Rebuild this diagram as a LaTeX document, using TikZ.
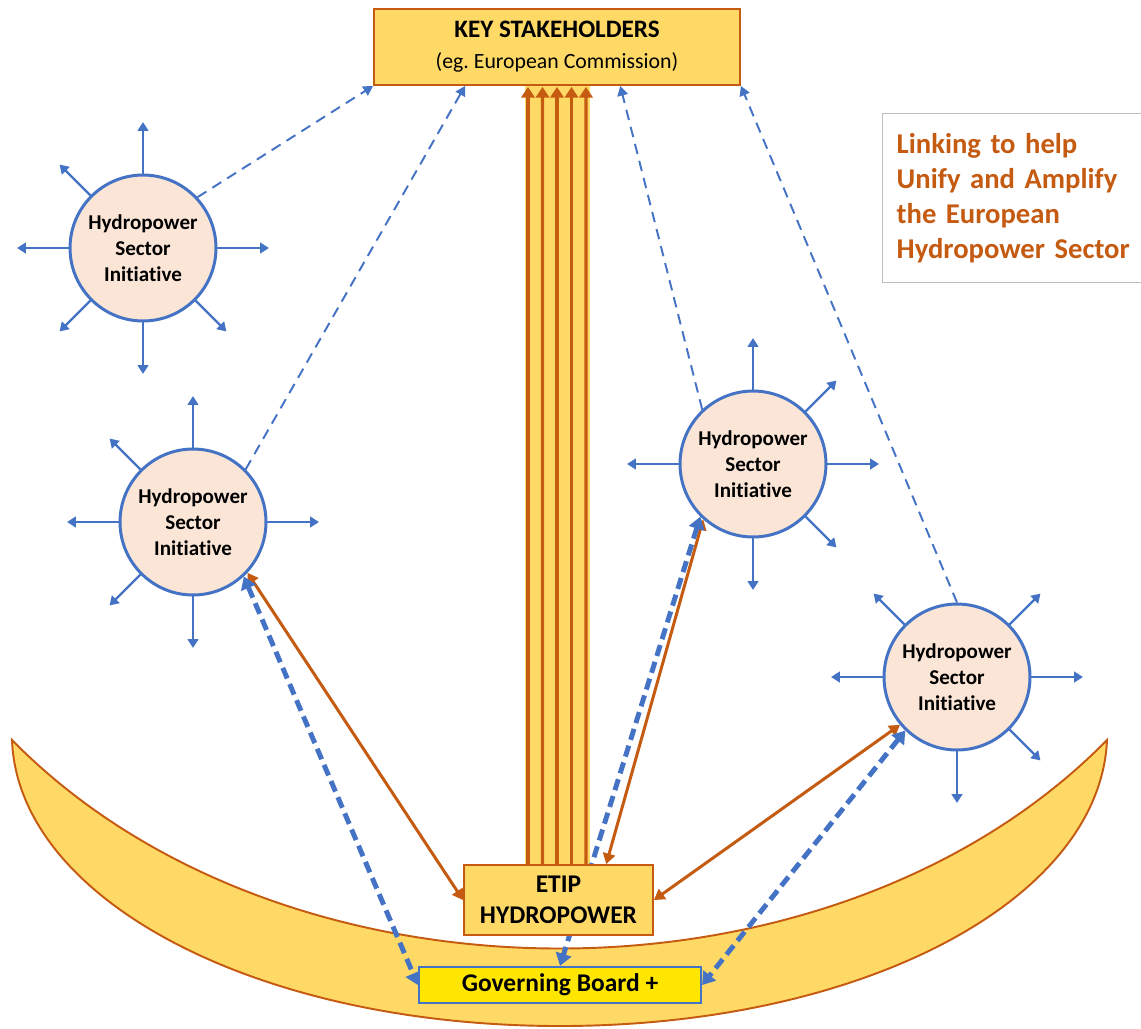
\documentclass[tikz,border=0pt]{standalone}
\usepackage{fontspec}
\setmainfont{Carlito}[Ligatures=NoCommon]
\frenchspacing
\usetikzlibrary{arrows.meta,calc}
\definecolor{gold}{HTML}{FFD966}
\definecolor{rust}{HTML}{C55A11}
\definecolor{iblue}{HTML}{4472C4}
\definecolor{peach}{HTML}{FBE5D6}
\definecolor{gbyellow}{HTML}{FFE600}
\definecolor{boxgray}{HTML}{BFBFBF}
\pgfdeclarelayer{bg}
\pgfdeclarelayer{mid}
\pgfsetlayers{bg,mid,main}
\begin{document}
\begin{tikzpicture}[x=0.02cm,y=-0.02cm,
  init/.style={circle, draw=iblue, line width=1.7pt, fill=peach, minimum size=2.92cm, inner sep=0pt, align=center, font=\fontsize{12}{14.7}\selectfont\bfseries},
  ray/.style={draw=iblue, line width=1.3pt, -{Triangle[width=6pt,length=5pt]}},
  goldbox/.style={draw=rust, line width=1.1pt, fill=gold, align=center, inner sep=0pt},
  thindash/.style={draw=iblue, line width=1.1pt, dash pattern=on 6pt off 4pt, -{Triangle[width=6pt,length=5.5pt]}},
  thickdash/.style={draw=iblue, line width=2.8pt, dash pattern=on 6.5pt off 3.5pt, {Triangle[width=9pt,length=7pt]}-{Triangle[width=9pt,length=7pt]}},
  rustarrow/.style={draw=rust, line width=1.7pt, {Triangle[width=7pt,length=6pt]}-{Triangle[width=7pt,length=6pt]}},
  upflow/.style={draw=rust, line width=1.8pt, -{Triangle[width=7.5pt,length=6pt]}}
]
\clip (0,0) rectangle (1141,1028);

% nodes
\node[goldbox, minimum width=7.32cm, minimum height=1.52cm, font=\fontsize{14.3}{17.6}\selectfont] (key) at (557,47)
  {\textbf{KEY STAKEHOLDERS}\\{\fontsize{12.4}{17.6}\selectfont (eg. European Commission)}};
\node[goldbox, minimum width=3.78cm, minimum height=1.4cm, font=\fontsize{14.5}{17.6}\selectfont\bfseries] (etip) at (558.5,900) {ETIP\\HYDROPOWER};
\node[draw=iblue, line width=1.3pt, fill=gbyellow, inner sep=0pt, minimum width=5.64cm, minimum height=0.72cm, font=\fontsize{14.5}{17}\selectfont\bfseries] (gb) at (560,985) {Governing Board +};
\node[draw=boxgray, line width=0.8pt, fill=white, anchor=north west, minimum height=3.38cm, text width=5cm, inner xsep=0.28cm, align=left, text=rust, font=\fontsize{16.3}{19.9}\selectfont\bfseries] (tagline) at (882,113)
  {Linking to help\\Unify and Amplify\\the European\\Hydropower Sector};

\node[init] (c1) at (143,248) {Hydropower\\Sector\\Initiative};
\node[init] (c2) at (193,522) {Hydropower\\Sector\\Initiative};
\node[init] (c3) at (753,464) {Hydropower\\Sector\\Initiative};
\node[init] (c4) at (957,677) {Hydropower\\Sector\\Initiative};

% background and crescent
\begin{pgfonlayer}{bg}
\fill[white] (0,0) rectangle (1141,1028);
\draw[rust, line width=1.1pt, fill=gold] (12,740) .. controls (285,1018) and (834,1018) .. (1107,740)
  .. controls (1100,900) and (863,1026) .. (560,1026)
  .. controls (257,1026) and (18,900) .. cycle;
\end{pgfonlayer}

\begin{pgfonlayer}{mid}
% upward flow band
\fill[gold] ($(key.south)+(-32,0)$) rectangle ($(etip.north)+(31.5,0)$);
\foreach \dx in {-29,-14.5,0,14.5,29}
  \draw[upflow] ($(etip.north)+(\dx-1.5,0)$) -- ($(key.south)+(\dx,1)$);

% rays
\foreach \a in {0,90,180,270} \draw[ray] (c1.\a) -- ++(\a:1.03cm);
\foreach \a in {135,225,315} \draw[ray] (c1.\a) -- ++(\a:0.87cm);
\foreach \a in {0,90,180,270} \draw[ray] (c2.\a) -- ++(\a:1.03cm);
\foreach \a in {135,225} \draw[ray] (c2.\a) -- ++(\a:0.87cm);
\foreach \a in {0,90,180,270} \draw[ray] (c3.\a) -- ++(\a:1.03cm);
\foreach \a in {45,315} \draw[ray] (c3.\a) -- ++(\a:0.87cm);
\foreach \a in {0,180,270} \draw[ray] (c4.\a) -- ++(\a:1.03cm);
\foreach \a in {45,135,315} \draw[ray] (c4.\a) -- ++(\a:0.87cm);

% thin dashed links to key stakeholders
\draw[thindash] (c1.43) -- (key.south west);
\draw[thindash] (c2.45) -- ($(key.south west)!0.25!(key.south east)$);
\draw[thindash] (c3.133) -- ($(key.south west)!0.672!(key.south east)$);
\draw[thindash] (c4.90) -- (key.south east);

% orange two-way links with ETIP
\draw[rustarrow] (c2.-43) -- (etip.west);
\draw[rustarrow] (c3.-132) -- ($(etip.north)!0.5!(etip.north east)$);
\draw[rustarrow] (c4.220) -- (etip.east);

% thick dashed links with governing board
\draw[thickdash] (c2.-47) -- (gb.west);
\draw[thickdash] (c3.-135) -- (gb.north);
\draw[thickdash] (c4.226) -- (gb.east);
\end{pgfonlayer}
\end{tikzpicture}
\end{document}
